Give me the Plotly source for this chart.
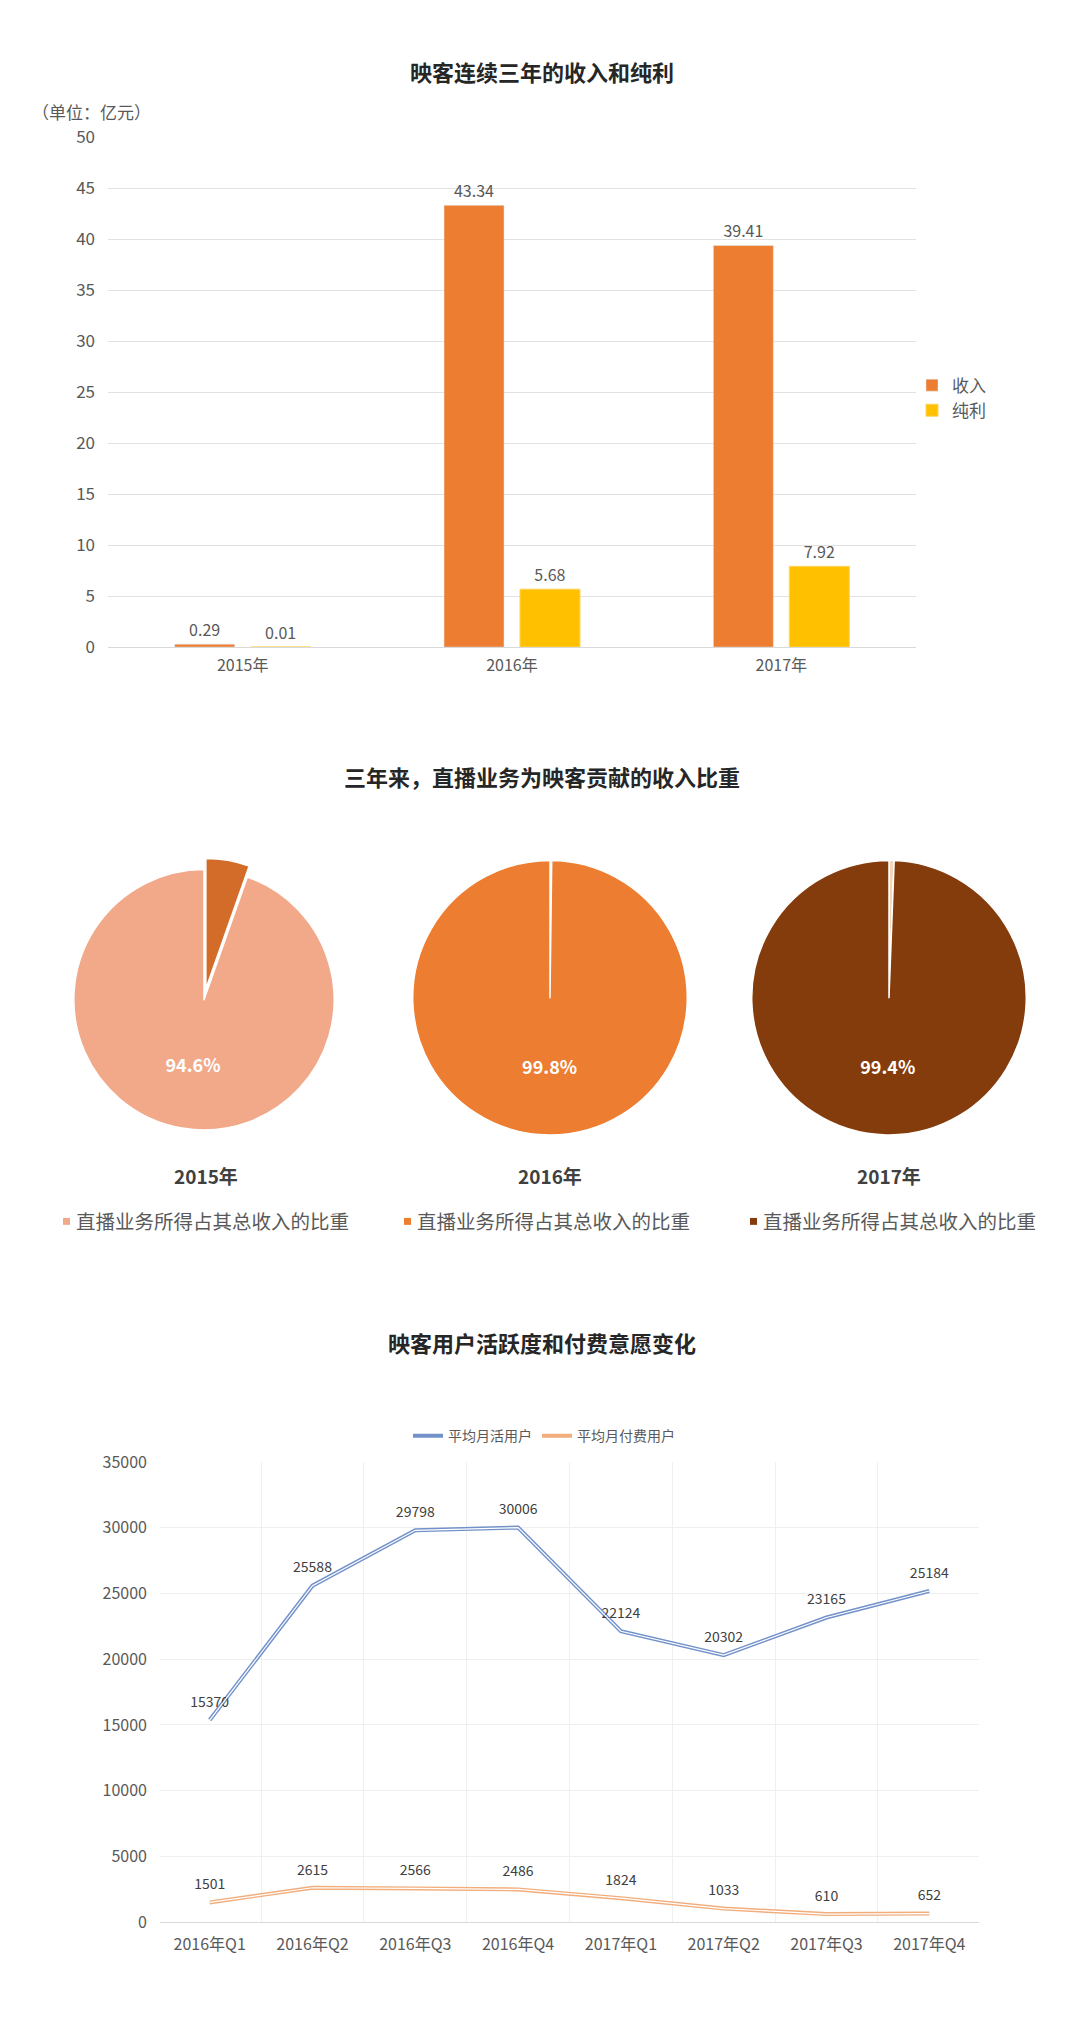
import plotly.graph_objects as go

W, H = 1080, 2024
FONT = "Noto Sans CJK SC"
GRAY = "#595959"

# ---------------- Chart 1 data ----------------
years = ["2015年", "2016年", "2017年"]
revenue = [0.29, 43.34, 39.41]
profit = [0.01, 5.68, 7.92]
revenue_text = ["0.29", "43.34", "39.41"]
profit_text = ["0.01", "5.68", "7.92"]

# ---------------- Chart 2 data ----------------
pie_years = ["2015年", "2016年", "2017年"]
live_share = [94.6, 99.8, 99.4]
live_label = "直播业务所得占其总收入的比重"
other_label = "其他业务"
pie_colors = ["#F1A98A", "#ED7D31", "#843C0C"]
other_colors = ["#D26C28", "#FBE3D0", "#F3D6B8"]
pie_pull = [0.085, 0, 0]

# ---------------- Chart 3 data ----------------
quarters = ["2016年Q1", "2016年Q2", "2016年Q3", "2016年Q4",
            "2017年Q1", "2017年Q2", "2017年Q3", "2017年Q4"]
mau = [15370, 25588, 29798, 30006, 22124, 20302, 23165, 25184]
paying = [1501, 2615, 2566, 2486, 1824, 1033, 610, 652]


def px(x):
    return x / W


def py(y):
    return 1 - y / H


fig = go.Figure()

# ---- Chart 1: bars ----
fig.add_trace(go.Bar(
    x=years, y=revenue, name="收入", marker_color="#ED7D31",
    text=revenue_text, textposition="outside", cliponaxis=False,
    textfont=dict(size=16, color=GRAY, family=FONT),
    xaxis="x", yaxis="y", legend="legend"))
fig.add_trace(go.Bar(
    x=years, y=profit, name="纯利",
    marker=dict(color="#FFC000", line=dict(color="#FFD45A", width=1)),
    text=profit_text, textposition="outside", cliponaxis=False,
    textfont=dict(size=16, color=GRAY, family=FONT),
    xaxis="x", yaxis="y", legend="legend"))

# ---- Chart 2: pies ----
pie_domains = [
    ([px(61), px(347)], [py(1141), py(855)]),
    ([px(411), px(689)], [py(1135), py(857)]),
    ([px(750), px(1028)], [py(1135), py(857)]),
]
for i in range(3):
    fig.add_trace(go.Pie(
        labels=[other_label, live_label],
        values=[round(100 - live_share[i], 1), live_share[i]],
        text=["", f"{live_share[i]}%"],
        textinfo="text", textposition="inside",
        insidetextorientation="horizontal",
        textfont=dict(size=18, color="white", family=FONT, weight="bold"),
        marker=dict(colors=[other_colors[i], pie_colors[i]],
                    line=dict(color="white", width=1.5)),
        direction="clockwise", sort=False, rotation=0,
        pull=[pie_pull[i], 0],
        domain=dict(x=pie_domains[i][0], y=pie_domains[i][1]),
        showlegend=False, hoverinfo="label+percent"))

# ---- Chart 3: lines (double-line look) ----
for vals, name, col in [(mau, "平均月活用户", "#7392CA"),
                        (paying, "平均月付费用户", "#F2AD7C")]:
    fig.add_trace(go.Scatter(
        x=quarters, y=vals, name=name, mode="lines+markers+text",
        text=[str(v) for v in vals], textposition="top center",
        textfont=dict(size=14, color="#404040", family=FONT),
        line=dict(color=col, width=4),
        marker=dict(size=14, color="rgba(0,0,0,0)"),
        cliponaxis=False,
        xaxis="x2", yaxis="y2", legend="legend2"))
    fig.add_trace(go.Scatter(
        x=quarters, y=vals, mode="lines", showlegend=False,
        line=dict(color="white", width=1.2), hoverinfo="skip",
        xaxis="x2", yaxis="y2"))

annotations = []
# titles
for text, y in [("映客连续三年的收入和纯利", 58),
                ("三年来，直播业务为映客贡献的收入比重", 772),
                ("映客用户活跃度和付费意愿变化", 1345)]:
    annotations.append(dict(
        text=text, x=px(542), y=py(y), xref="paper", yref="paper",
        xanchor="center", yanchor="middle", showarrow=False,
        font=dict(size=22, color="#262626", family=FONT, weight="bold")))

annotations.append(dict(
    text="（单位：亿元）", x=px(30), y=py(99), xref="paper", yref="paper",
    xanchor="left", yanchor="middle", showarrow=False,
    font=dict(size=17, color=GRAY, family=FONT)))

# pie year labels + legends
pie_cx = [206, 550, 889]
legend_sq = [63, 404, 750]
shapes = []
for i in range(3):
    annotations.append(dict(
        text=pie_years[i], x=px(pie_cx[i]), y=py(1176), xref="paper", yref="paper",
        xanchor="center", yanchor="middle", showarrow=False,
        font=dict(size=19, color="#404040", family=FONT, weight="bold")))
    shapes.append(dict(
        type="rect", xref="paper", yref="paper",
        x0=px(legend_sq[i]), x1=px(legend_sq[i] + 7),
        y0=py(1226), y1=py(1219), line=dict(width=0),
        fillcolor=pie_colors[i]))
    annotations.append(dict(
        text=live_label, x=px(legend_sq[i] + 11), y=py(1222),
        xref="paper", yref="paper", xanchor="left", yanchor="middle",
        showarrow=False, font=dict(size=19.5, color=GRAY, family=FONT)))

fig.update_layout(
    width=W, height=H, autosize=False,
    margin=dict(l=0, r=0, t=0, b=0),
    paper_bgcolor="white", plot_bgcolor="white",
    font=dict(family=FONT, color=GRAY),
    barmode="group", bargap=0.436, bargroupgap=0.21,
    xaxis=dict(domain=[px(108), px(916)], anchor="y", type="category",
               showgrid=False, showline=True, linecolor="#D9D9D9",
               ticks="", ticklabelstandoff=4,
               tickfont=dict(size=16, color=GRAY)),
    yaxis=dict(domain=[py(641), py(125)], anchor="x", range=[0, 50],
               dtick=5, tick0=0, showgrid=True, gridcolor="#E2E2E2",
               zeroline=False, showline=False, ticks="",
               ticklabelstandoff=12, tickfont=dict(size=17, color=GRAY)),
    xaxis2=dict(domain=[px(160), px(979)], anchor="y2", type="category",
                tickson="boundaries", showgrid=True, gridcolor="#EFEFEF",
                showline=True, linecolor="#D9D9D9", ticks="",
                ticklabelstandoff=8,
                tickfont=dict(size=16, color=GRAY)),
    yaxis2=dict(domain=[py(1932), py(1466)], anchor="x2", range=[0, 35000],
                dtick=5000, tick0=0, tickformat="d",
                showgrid=True, gridcolor="#EFEFEF",
                zeroline=False, showline=False, ticks="",
                ticklabelstandoff=12, tickfont=dict(size=16, color=GRAY)),
    legend=dict(x=px(912), y=py(358), xanchor="left", yanchor="top",
                orientation="v", bgcolor="rgba(0,0,0,0)",
                font=dict(size=17, color=GRAY, family=FONT)),
    legend2=dict(x=px(544), y=py(1440), xanchor="center", yanchor="middle",
                 orientation="h", bgcolor="rgba(0,0,0,0)",
                 font=dict(size=14, color=GRAY, family=FONT)),
    annotations=annotations,
    shapes=shapes,
    showlegend=True,
)

fig.write_html(
    "out.html",
    config={"displayModeBar": False},
    post_script="document.body.style.margin='0px';"
                "document.body.style.overflow='hidden';",
)
